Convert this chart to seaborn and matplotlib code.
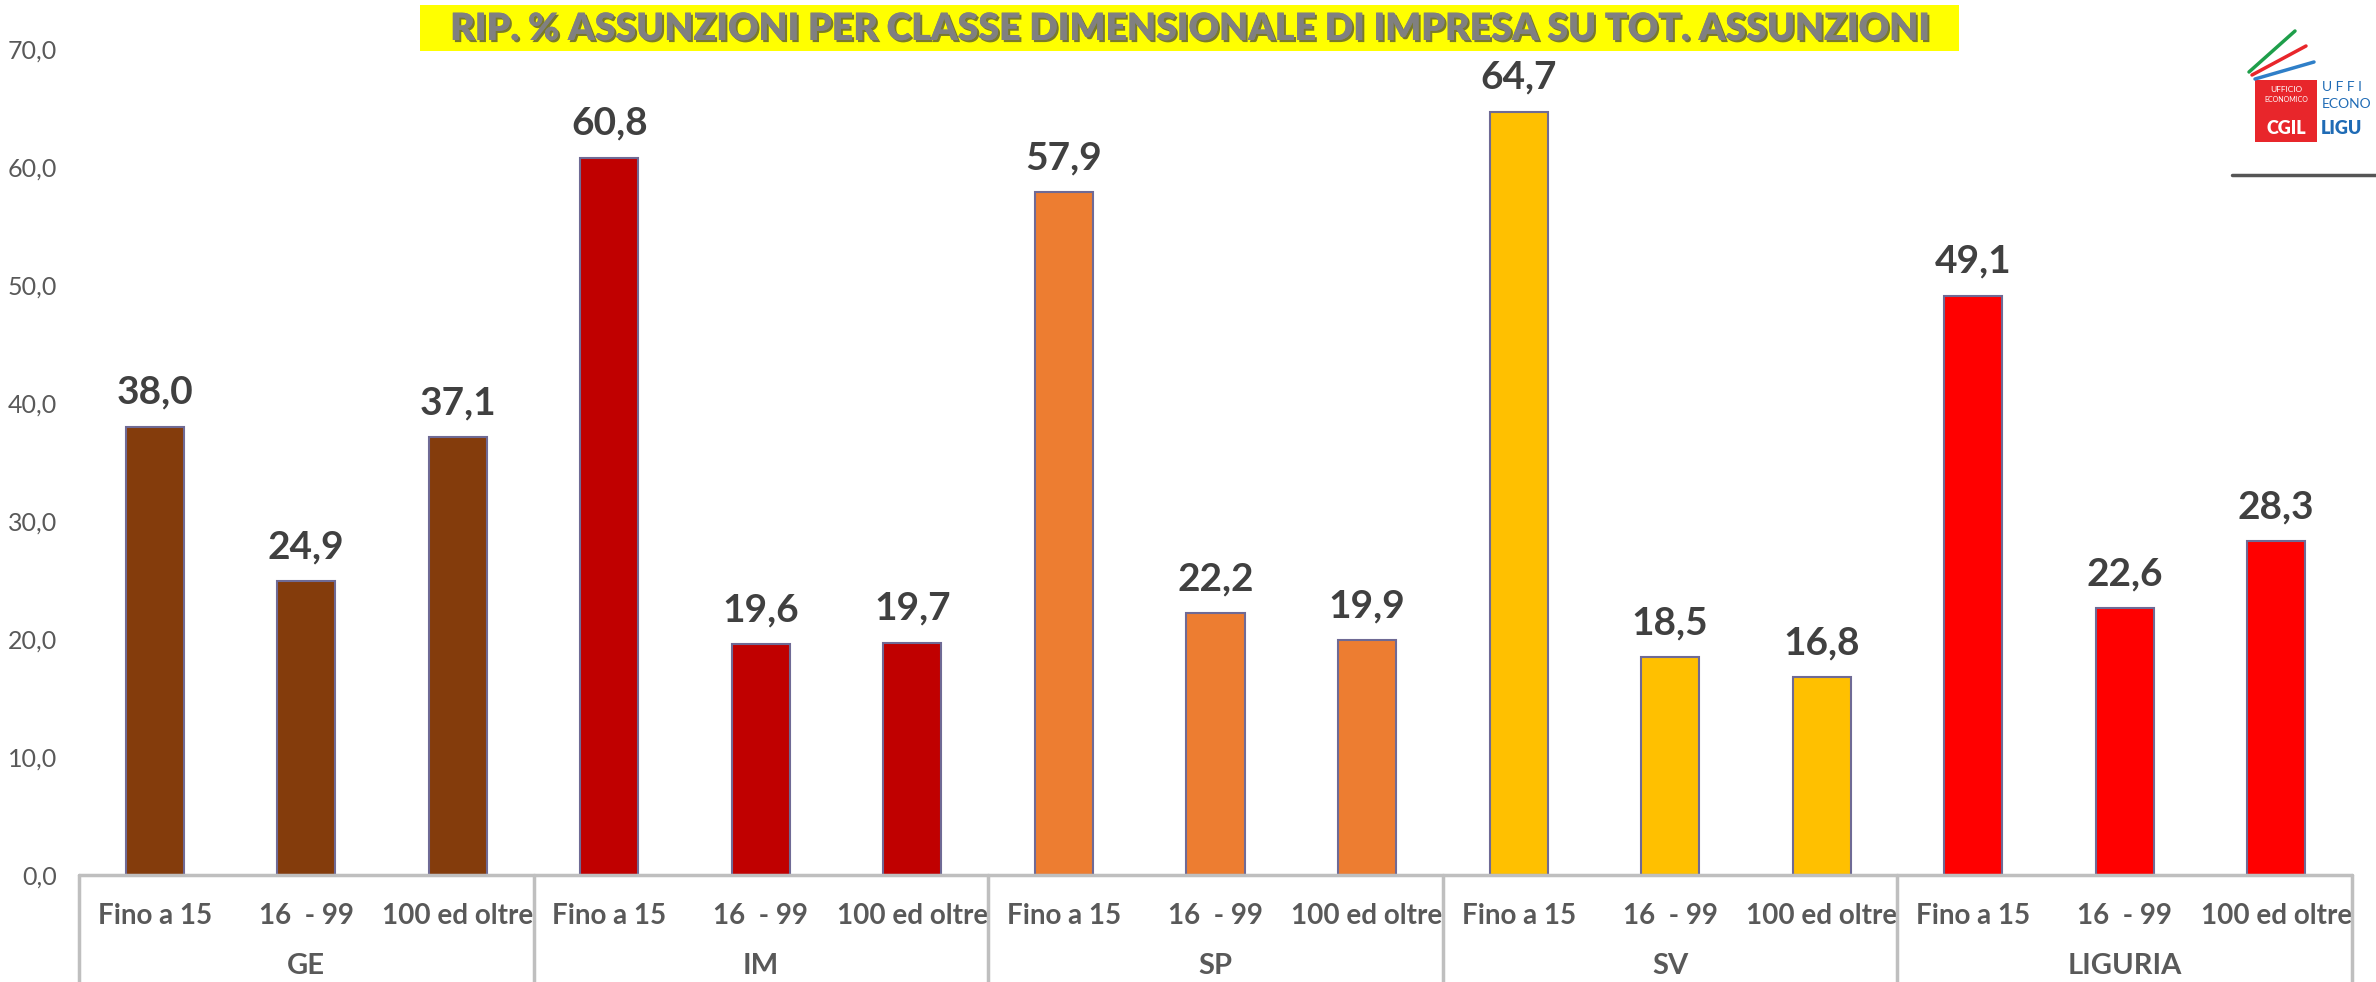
import matplotlib
matplotlib.use("Agg")
import matplotlib.pyplot as plt
import matplotlib.patheffects as pe
from matplotlib.patches import Rectangle
from matplotlib.lines import Line2D
import numpy as np
import pandas as pd
import seaborn as sns

# data
groups = ["GE", "IM", "SP", "SV", "LIGURIA"]
classes = ["Fino a 15", "16  - 99", "100 ed oltre"]
ge = [38.0, 24.9, 37.1]
im = [60.8, 19.6, 19.7]
sp = [57.9, 22.2, 19.9]
sv = [64.7, 18.5, 16.8]
liguria = [49.1, 22.6, 28.3]
group_colors = ["#843C0C", "#C00000", "#ED7D31", "#FFC000", "#FF0000"]

rows = []
for g, vals in zip(groups, [ge, im, sp, sv, liguria]):
    for c, v in zip(classes, vals):
        rows.append({"key": g + "|" + c, "group": g, "classe": c, "value": v})
df = pd.DataFrame(rows)

sns.set_style("white")
plt.rcParams["font.family"] = ["Lato", "DejaVu Sans"]

fig = plt.figure(figsize=(23.76, 9.82), dpi=100)
ax = fig.add_axes([79 / 2376, 0.1090, 2273 / 2376, 0.8411])

sns.barplot(data=df, x="key", y="value", hue="group", order=list(df["key"]),
            hue_order=groups, palette=group_colors, dodge=False, width=0.383,
            saturation=1, edgecolor="#6f6a95", linewidth=1.5, legend=False, ax=ax)

ax.set_ylim(0, 70)
ax.set_yticks(np.arange(0, 71, 10))
ax.set_yticklabels([f"{t:.1f}".replace(".", ",") for t in np.arange(0, 71, 10)],
                   fontsize=18, color="#595959")
ax.set_xticks(range(len(df)))
ax.set_xticklabels(df["classe"], fontsize=20, fontweight="bold", color="#595959")
ax.tick_params(axis="x", length=0, pad=20)
ax.tick_params(axis="y", length=0, pad=16)
ax.set_xlabel("")
ax.set_ylabel("")
ax.set_xlim(-0.5, len(df) - 0.5)
for s in ["top", "right", "left", "bottom"]:
    ax.spines[s].set_visible(False)

# value labels
for cont in ax.containers:
    labs = [f"{b.get_height():.1f}".replace(".", ",") for b in cont]
    ax.bar_label(cont, labels=labs, padding=12, fontsize=28,
                 fontweight="bold", color="#404040")

# multi-level category axis box
lc = "#BFBFBF"
ax.add_line(Line2D([-0.5, len(df) - 0.5], [0, 0], color=lc, lw=2.5, clip_on=False))
for k in range(len(groups) + 1):
    xpos = k * 3 - 0.5
    ax.add_line(Line2D([xpos, xpos], [0, -10], color=lc, lw=2.5, clip_on=False))
for k, g in enumerate(groups):
    ax.text(k * 3 + 1, -0.1195, g, transform=ax.get_xaxis_transform(),
            ha="center", va="baseline", fontsize=21, fontweight="bold",
            color="#595959")

# title
fig.patches.append(Rectangle((420 / 2376, 1 - 51 / 982), 1539 / 2376, 46 / 982,
                             transform=fig.transFigure, facecolor="#FFFF00",
                             edgecolor="none", zorder=0))
fig.text(1190 / 2376, 1 - 29 / 982,
         "RIP. % ASSUNZIONI PER CLASSE DIMENSIONALE DI IMPRESA SU TOT. ASSUNZIONI",
         ha="center", va="center", fontsize=27, fontweight="heavy", color="#808080",
         path_effects=[pe.withSimplePatchShadow(offset=(1.5, -1.5),
                                                shadow_rgbFace="#404040", alpha=0.7),
                       pe.Normal()])

# logo (cut by the right edge as in the reference)
def fx(px):
    return px / 2376

def fy(py):
    return 1 - py / 982

for (x0, y0, x1, y1, c) in [(2249, 72, 2295, 31, "#1E9E4A"),
                            (2252, 75, 2306, 46, "#E8262B"),
                            (2255, 79, 2314, 62, "#2F7FC8")]:
    fig.add_artist(Line2D([fx(x0), fx(x1)], [fy(y0), fy(y1)], color=c, lw=2.5,
                          transform=fig.transFigure))
fig.patches.append(Rectangle((fx(2255), fy(142)), 62 / 2376, 62 / 982,
                             transform=fig.transFigure, facecolor="#E8262B",
                             edgecolor="none"))
fig.text(fx(2286), fy(89), "UFFICIO", ha="center", va="center", fontsize=6,
         color="white")
fig.text(fx(2286), fy(99), "ECONOMICO", ha="center", va="center", fontsize=5,
         color="white")
fig.text(fx(2286), fy(128), "CGIL", ha="center", va="center", fontsize=13,
         fontweight="heavy", color="white")
fig.text(fx(2322), fy(87), "U F F I", ha="left", va="center", fontsize=10,
         color="#1F6BB5")
fig.text(fx(2322), fy(104), "ECONO", ha="left", va="center", fontsize=10,
         color="#1F6BB5")
fig.text(fx(2321), fy(128), "LIGU", ha="left", va="center", fontsize=13,
         fontweight="heavy", color="#1F6BB5")
fig.add_artist(Line2D([fx(2232), fx(2376)], [fy(175), fy(175)], color="#555555",
                      lw=2.5, transform=fig.transFigure))

fig.savefig("out.png", dpi=100)
